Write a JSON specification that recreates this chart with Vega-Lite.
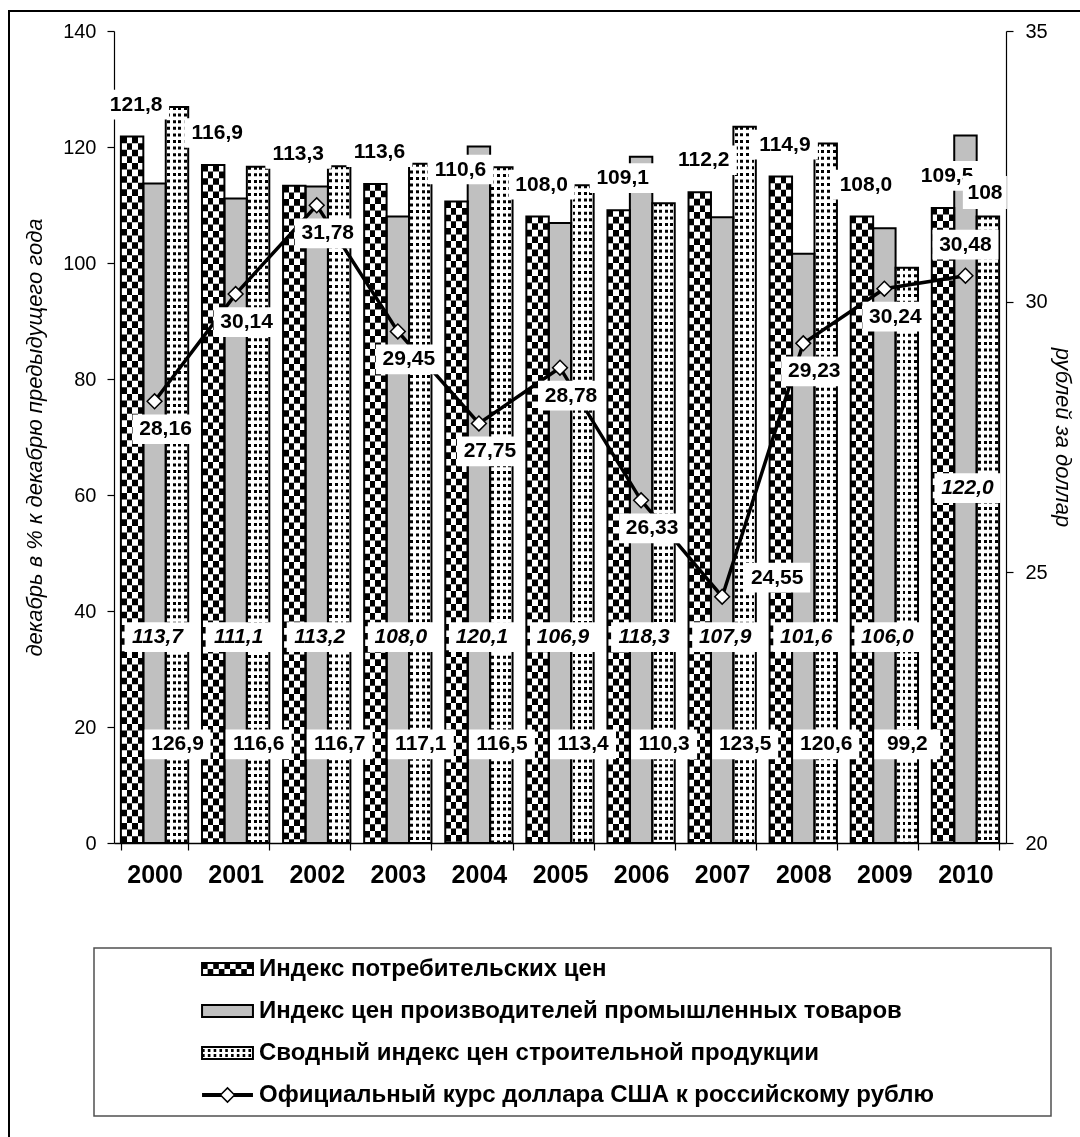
{
  "$schema": "https://vega.github.io/schema/vega-lite/v6.json",
  "width": 1081,
  "height": 1139,
  "autosize": {"type": "none"},
  "padding": {"left": 9, "top": 11, "right": 0, "bottom": 0},
  "background": "white",
  "config": {
    "font": "Liberation Sans",
    "view": {"stroke": "black", "strokeWidth": 2},
    "axis": {"grid": false, "domainColor": "black", "domainWidth": 1.2, "tickColor": "black", "tickWidth": 1.2, "labelColor": "black", "titleColor": "black", "labelFont": "Liberation Sans", "titleFont": "Liberation Sans"},
    "text": {"color": "black"},
    "locale": {"number": {"decimal": ",", "thousands": " ", "grouping": [3], "currency": ["", ""]}}
  },
  "datasets": {
    "bars": [
      {"year": "2000", "key": "cpi", "value": 121.8}, {"year": "2000", "key": "ppi", "value": 113.7}, {"year": "2000", "key": "con", "value": 126.9},
      {"year": "2001", "key": "cpi", "value": 116.9}, {"year": "2001", "key": "ppi", "value": 111.1}, {"year": "2001", "key": "con", "value": 116.6},
      {"year": "2002", "key": "cpi", "value": 113.3}, {"year": "2002", "key": "ppi", "value": 113.2}, {"year": "2002", "key": "con", "value": 116.7},
      {"year": "2003", "key": "cpi", "value": 113.6}, {"year": "2003", "key": "ppi", "value": 108.0}, {"year": "2003", "key": "con", "value": 117.1},
      {"year": "2004", "key": "cpi", "value": 110.6}, {"year": "2004", "key": "ppi", "value": 120.1}, {"year": "2004", "key": "con", "value": 116.5},
      {"year": "2005", "key": "cpi", "value": 108.0}, {"year": "2005", "key": "ppi", "value": 106.9}, {"year": "2005", "key": "con", "value": 113.4},
      {"year": "2006", "key": "cpi", "value": 109.1}, {"year": "2006", "key": "ppi", "value": 118.3}, {"year": "2006", "key": "con", "value": 110.3},
      {"year": "2007", "key": "cpi", "value": 112.2}, {"year": "2007", "key": "ppi", "value": 107.9}, {"year": "2007", "key": "con", "value": 123.5},
      {"year": "2008", "key": "cpi", "value": 114.9}, {"year": "2008", "key": "ppi", "value": 101.6}, {"year": "2008", "key": "con", "value": 120.6},
      {"year": "2009", "key": "cpi", "value": 108.0}, {"year": "2009", "key": "ppi", "value": 106.0}, {"year": "2009", "key": "con", "value": 99.2},
      {"year": "2010", "key": "cpi", "value": 109.5}, {"year": "2010", "key": "ppi", "value": 122.0}, {"year": "2010", "key": "con", "value": 108.0}
    ],
    "usd": [
      {"year": "2000", "rate": 28.16}, {"year": "2001", "rate": 30.14}, {"year": "2002", "rate": 31.78},
      {"year": "2003", "rate": 29.45}, {"year": "2004", "rate": 27.75}, {"year": "2005", "rate": 28.78},
      {"year": "2006", "rate": 26.33}, {"year": "2007", "rate": 24.55}, {"year": "2008", "rate": 29.23},
      {"year": "2009", "rate": 30.24}, {"year": "2010", "rate": 30.48}
    ],
    "legend": [
      {"key": "cpi", "label": "Индекс потребительских цен"},
      {"key": "ppi", "label": "Индекс цен производителей промышленных товаров"},
      {"key": "con", "label": "Сводный индекс цен строительной продукции"},
      {"key": "usd", "label": "Официальный курс доллара США к российскому рублю"}
    ]
  },
  "layer": [
    {
      "layer": [
        {
          "data": {"name": "bars"},
          "encoding": {
            "x": {"field": "year", "type": "nominal",
              "scale": {"range": [105, 997], "paddingInner": 0.17, "paddingOuter": 0.085},
              "axis": {"orient": "bottom", "offset": -307, "title": null, "labelAngle": 0, "labelFontSize": 25, "labelFontWeight": "bold", "labelPadding": 12, "tickSize": 7, "tickBand": "extent", "domainWidth": 1.6}},
            "y": {"field": "value", "type": "quantitative",
              "scale": {"domain": [0, 140], "range": [832, 20], "nice": false},
              "axis": {"orient": "left", "offset": -105, "values": [0, 20, 40, 60, 80, 100, 120, 140], "tickSize": 7, "labelFontSize": 20, "labelPadding": 11, "labelFlush": false, "labelOverlap": false, "title": "декабрь в % к декабрю предыдущего года", "titleFontSize": 22, "titleFontStyle": "italic", "titleFontWeight": "normal", "titlePadding": 16}}
          },
          "layer": [
            {
              "mark": {"type": "bar", "strokeWidth": 0},
              "encoding": {
                "xOffset": {"field": "key", "type": "nominal", "scale": {"domain": ["cpi", "ppi", "con"]}},
                "fill": {"field": "key", "type": "nominal", "scale": {"domain": ["cpi", "ppi", "con"], "range": ["#ffffff", "#c0c0c0", "#ffffff"]}, "legend": null}
              }
            },
            {
              "transform": [{"filter": "datum.key == 'cpi'"}],
              "mark": {"type": "rule", "color": "black", "strokeWidth": 22.4, "strokeDash": [6.6, 6.6]},
              "encoding": {
                "xOffset": {"field": "key", "type": "nominal", "scale": {"domain": ["cpi", "ppi", "con"]}},
                "y2": {"datum": 0}
              }
            },
            {
              "transform": [{"filter": "datum.key == 'cpi'"}],
              "mark": {"type": "bar", "strokeWidth": 0, "blend": "difference",
                "fill": {"gradient": "linear", "x1": 0, "y1": 0, "x2": 1, "y2": 0, "stops": [
                  {"offset": 0, "color": "#000"}, {"offset": 0.25, "color": "#000"},
                  {"offset": 0.25, "color": "#fff"}, {"offset": 0.5, "color": "#fff"},
                  {"offset": 0.5, "color": "#000"}, {"offset": 0.75, "color": "#000"},
                  {"offset": 0.75, "color": "#fff"}, {"offset": 1, "color": "#fff"}]}},
              "encoding": {
                "xOffset": {"field": "key", "type": "nominal", "scale": {"domain": ["cpi", "ppi", "con"]}}
              }
            },
            {
              "transform": [{"filter": "datum.key == 'con'"}],
              "mark": {"type": "rule", "color": "black", "strokeWidth": 22.4, "strokeDash": [3, 3.6]},
              "encoding": {
                "xOffset": {"field": "key", "type": "nominal", "scale": {"domain": ["cpi", "ppi", "con"]}},
                "y2": {"datum": 0}
              }
            },
            {
              "transform": [{"filter": "datum.key == 'con'"}],
              "mark": {"type": "bar", "strokeWidth": 0, "blend": "lighten",
                "fill": {"gradient": "linear", "x1": 0, "y1": 0, "x2": 1, "y2": 0, "stops": [
                  {"offset": 0, "color": "#fff"}, {"offset": 0.06, "color": "#fff"},
                  {"offset": 0.06, "color": "#000"}, {"offset": 0.19, "color": "#000"},
                  {"offset": 0.19, "color": "#fff"}, {"offset": 0.31, "color": "#fff"},
                  {"offset": 0.31, "color": "#000"}, {"offset": 0.44, "color": "#000"},
                  {"offset": 0.44, "color": "#fff"}, {"offset": 0.56, "color": "#fff"},
                  {"offset": 0.56, "color": "#000"}, {"offset": 0.69, "color": "#000"},
                  {"offset": 0.69, "color": "#fff"}, {"offset": 0.81, "color": "#fff"},
                  {"offset": 0.81, "color": "#000"}, {"offset": 0.94, "color": "#000"},
                  {"offset": 0.94, "color": "#fff"}, {"offset": 1, "color": "#fff"}]}},
              "encoding": {
                "xOffset": {"field": "key", "type": "nominal", "scale": {"domain": ["cpi", "ppi", "con"]}}
              }
            },
            {
              "mark": {"type": "bar", "fillOpacity": 0, "stroke": "black", "strokeWidth": 2},
              "encoding": {
                "xOffset": {"field": "key", "type": "nominal", "scale": {"domain": ["cpi", "ppi", "con"]}}
              }
            },
            {
              "transform": [{"filter": "datum.key == 'cpi'"}],
              "mark": {"type": "point", "shape": "M-1,-0.45H1V0.45H-1Z", "size": 4356, "filled": true, "color": "white", "opacity": 1, "strokeWidth": 0, "xOffset": -18.4, "yOffset": -32}
            },
            {
              "transform": [{"filter": "datum.key == 'cpi'"}],
              "mark": {"type": "text", "dx": -18.4, "dy": -32, "fontSize": 21, "fontWeight": "bold", "baseline": "middle"},
              "encoding": {"text": {"field": "value", "type": "quantitative", "format": ".1f"}}
            },
            {
              "transform": [{"filter": "datum.key == 'ppi' && datum.year != '2010'"}],
              "mark": {"type": "point", "shape": "M-1,-0.45H1V0.45H-1Z", "size": 4356, "filled": true, "color": "white", "opacity": 1, "strokeWidth": 0, "xOffset": 3},
              "encoding": {"y": {"datum": 35.5}}
            },
            {
              "transform": [{"filter": "datum.key == 'ppi' && datum.year != '2010'"}],
              "mark": {"type": "text", "dx": 3, "fontSize": 21, "fontWeight": "bold", "fontStyle": "italic", "baseline": "middle"},
              "encoding": {"y": {"datum": 35.5}, "text": {"field": "value", "type": "quantitative", "format": ".1f"}}
            },
            {
              "transform": [{"filter": "datum.key == 'ppi' && datum.year == '2010'"}],
              "mark": {"type": "point", "shape": "M-1,-0.45H1V0.45H-1Z", "size": 4356, "filled": true, "color": "white", "opacity": 1, "strokeWidth": 0, "xOffset": 2},
              "encoding": {"y": {"datum": 61.2}}
            },
            {
              "transform": [{"filter": "datum.key == 'ppi' && datum.year == '2010'"}],
              "mark": {"type": "text", "dx": 2, "fontSize": 21, "fontWeight": "bold", "fontStyle": "italic", "baseline": "middle"},
              "encoding": {"y": {"datum": 61.2}, "text": {"field": "value", "type": "quantitative", "format": ".1f"}}
            },
            {
              "transform": [{"filter": "datum.key == 'con' && datum.year != '2010'"}],
              "mark": {"type": "point", "shape": "M-1,-0.45H1V0.45H-1Z", "size": 4356, "filled": true, "color": "white", "opacity": 1, "strokeWidth": 0, "xOffset": 23},
              "encoding": {"y": {"datum": 17}}
            },
            {
              "transform": [{"filter": "datum.key == 'con' && datum.year != '2010'"}],
              "mark": {"type": "text", "dx": 23, "fontSize": 21, "fontWeight": "bold", "baseline": "middle"},
              "encoding": {"y": {"datum": 17}, "text": {"field": "value", "type": "quantitative", "format": ".1f"}}
            },
            {
              "transform": [{"filter": "datum.key == 'con' && datum.year == '2010'"}],
              "mark": {"type": "point", "shape": "M-1,-0.75H1V0.75H-1Z", "size": 1936, "filled": true, "color": "white", "opacity": 1, "strokeWidth": 0, "xOffset": 19.4, "yOffset": -24}
            },
            {
              "transform": [{"filter": "datum.key == 'con' && datum.year == '2010'"}],
              "mark": {"type": "text", "align": "left", "dx": 2, "dy": -24, "limit": 37, "ellipsis": "\u200b", "fontSize": 21, "fontWeight": "bold", "baseline": "middle"},
              "encoding": {"text": {"field": "value", "type": "quantitative", "format": ".1f"}}
            }
          ]
        },
        {
          "data": {"name": "usd"},
          "encoding": {
            "x": {"field": "year", "type": "nominal"},
            "y": {"field": "rate", "type": "quantitative",
              "scale": {"domain": [20, 35], "range": [832, 20], "nice": false, "zero": false},
              "axis": {"orient": "right", "offset": -84, "values": [20, 25, 30, 35], "tickSize": 7, "labelFontSize": 20, "labelPadding": 12, "labelFlush": false, "title": "рублей за доллар", "titleFontSize": 22, "titleFontStyle": "italic", "titleFontWeight": "normal", "titlePadding": 3}}
          },
          "layer": [
            {"mark": {"type": "line", "color": "black", "strokeWidth": 3.5}},
            {"mark": {"type": "point", "shape": "diamond", "filled": true, "fill": "white", "stroke": "black", "strokeWidth": 1.5, "size": 220, "opacity": 1}},
            {
              "transform": [{"filter": "datum.year != '2007' && datum.year != '2010'"}],
              "mark": {"type": "point", "shape": "M-1,-0.45H1V0.45H-1Z", "size": 4356, "filled": true, "color": "white", "opacity": 1, "strokeWidth": 0, "xOffset": 11, "yOffset": 28}
            },
            {
              "transform": [{"filter": "datum.year != '2007' && datum.year != '2010'"}],
              "mark": {"type": "text", "dx": 11, "dy": 28, "fontSize": 21, "fontWeight": "bold", "baseline": "middle"},
              "encoding": {"text": {"field": "rate", "type": "quantitative", "format": ".2f"}}
            },
            {
              "transform": [{"filter": "datum.year == '2007'"}],
              "mark": {"type": "point", "shape": "M-1,-0.45H1V0.45H-1Z", "size": 4356, "filled": true, "color": "white", "opacity": 1, "strokeWidth": 0, "xOffset": 55, "yOffset": -19}
            },
            {
              "transform": [{"filter": "datum.year == '2007'"}],
              "mark": {"type": "text", "dx": 55, "dy": -19, "fontSize": 21, "fontWeight": "bold", "baseline": "middle"},
              "encoding": {"text": {"field": "rate", "type": "quantitative", "format": ".2f"}}
            },
            {
              "transform": [{"filter": "datum.year == '2010'"}],
              "mark": {"type": "point", "shape": "M-1,-0.45H1V0.45H-1Z", "size": 4356, "filled": true, "color": "white", "opacity": 1, "strokeWidth": 0, "yOffset": -31}
            },
            {
              "transform": [{"filter": "datum.year == '2010'"}],
              "mark": {"type": "text", "dy": -31, "fontSize": 21, "fontWeight": "bold", "baseline": "middle"},
              "encoding": {"text": {"field": "rate", "type": "quantitative", "format": ".2f"}}
            }
          ]
        }
      ],
      "resolve": {"scale": {"y": "independent"}}
    },
    {
      "data": {"name": "legend"},
      "encoding": {
        "y": {"field": "key", "type": "nominal", "scale": {"type": "point", "domain": ["cpi", "ppi", "con", "usd"], "range": [937, 1105], "padding": 0.5}, "axis": null}
      },
      "layer": [
        {
          "transform": [{"filter": "datum.key == 'cpi'"}],
          "mark": {"type": "rect", "fill": "white", "stroke": "#505050", "strokeWidth": 1.5, "yOffset": -21, "y2Offset": 21},
          "encoding": {
            "x": {"datum": 0, "type": "quantitative", "scale": {"domain": [0, 1], "range": [85, 1042]}, "axis": null},
            "x2": {"datum": 1},
            "y": {"datum": "cpi", "type": "nominal"},
            "y2": {"datum": "usd"}
          }
        },
        {
          "transform": [{"filter": "datum.key != 'usd'"}],
          "mark": {"type": "bar", "height": 12, "strokeWidth": 0},
          "encoding": {
            "x": {"datum": 0.1129, "type": "quantitative", "scale": {"domain": [0, 1], "range": [85, 1042]}, "axis": null},
            "x2": {"datum": 0.1661},
            "fill": {"field": "key", "type": "nominal", "scale": {"domain": ["cpi", "ppi", "con"], "range": ["#ffffff", "#c0c0c0", "#ffffff"]}, "legend": null}
          }
        },
        {
          "transform": [{"filter": "datum.key == 'cpi'"}],
          "mark": {"type": "rule", "color": "black", "strokeWidth": 12, "strokeDash": [5.6, 5.6]},
          "encoding": {
            "x": {"datum": 0.1129, "type": "quantitative", "scale": {"domain": [0, 1], "range": [85, 1042]}, "axis": null},
            "x2": {"datum": 0.1661}
          }
        },
        {
          "transform": [{"filter": "datum.key == 'cpi'"}],
          "mark": {"type": "bar", "height": 12, "strokeWidth": 0, "blend": "difference",
            "fill": {"gradient": "linear", "x1": 0, "y1": 0, "x2": 0, "y2": 1, "stops": [
              {"offset": 0, "color": "#000"}, {"offset": 0.5, "color": "#000"},
              {"offset": 0.5, "color": "#fff"}, {"offset": 1, "color": "#fff"}]}},
          "encoding": {
            "x": {"datum": 0.1129, "type": "quantitative", "scale": {"domain": [0, 1], "range": [85, 1042]}, "axis": null},
            "x2": {"datum": 0.1661}
          }
        },
        {
          "transform": [{"filter": "datum.key == 'con'"}],
          "mark": {"type": "rule", "color": "black", "strokeWidth": 12, "strokeDash": [2.6, 3.2]},
          "encoding": {
            "x": {"datum": 0.1129, "type": "quantitative", "scale": {"domain": [0, 1], "range": [85, 1042]}, "axis": null},
            "x2": {"datum": 0.1661}
          }
        },
        {
          "transform": [{"filter": "datum.key == 'con'"}],
          "mark": {"type": "bar", "height": 12, "strokeWidth": 0, "blend": "lighten",
            "fill": {"gradient": "linear", "x1": 0, "y1": 0, "x2": 0, "y2": 1, "stops": [
              {"offset": 0, "color": "#fff"}, {"offset": 0.15, "color": "#fff"},
              {"offset": 0.15, "color": "#000"}, {"offset": 0.42, "color": "#000"},
              {"offset": 0.42, "color": "#fff"}, {"offset": 0.58, "color": "#fff"},
              {"offset": 0.58, "color": "#000"}, {"offset": 0.85, "color": "#000"},
              {"offset": 0.85, "color": "#fff"}, {"offset": 1, "color": "#fff"}]}},
          "encoding": {
            "x": {"datum": 0.1129, "type": "quantitative", "scale": {"domain": [0, 1], "range": [85, 1042]}, "axis": null},
            "x2": {"datum": 0.1661}
          }
        },
        {
          "transform": [{"filter": "datum.key != 'usd'"}],
          "mark": {"type": "bar", "height": 12, "fillOpacity": 0, "stroke": "black", "strokeWidth": 2},
          "encoding": {
            "x": {"datum": 0.1129, "type": "quantitative", "scale": {"domain": [0, 1], "range": [85, 1042]}, "axis": null},
            "x2": {"datum": 0.1661}
          }
        },
        {
          "transform": [{"filter": "datum.key == 'usd'"}],
          "mark": {"type": "rule", "color": "black", "strokeWidth": 4},
          "encoding": {
            "x": {"datum": 0.1129, "type": "quantitative", "scale": {"domain": [0, 1], "range": [85, 1042]}, "axis": null},
            "x2": {"datum": 0.1661}
          }
        },
        {
          "transform": [{"filter": "datum.key == 'usd'"}],
          "mark": {"type": "point", "shape": "diamond", "filled": true, "fill": "white", "stroke": "black", "strokeWidth": 1.5, "size": 200, "opacity": 1},
          "encoding": {
            "x": {"datum": 0.1395, "type": "quantitative", "scale": {"domain": [0, 1], "range": [85, 1042]}, "axis": null}
          }
        },
        {
          "mark": {"type": "text", "align": "left", "baseline": "middle", "dx": 6, "fontSize": 24, "fontWeight": "bold"},
          "encoding": {
            "x": {"datum": 0.1661, "type": "quantitative", "scale": {"domain": [0, 1], "range": [85, 1042]}, "axis": null},
            "text": {"field": "label", "type": "nominal"}
          }
        }
      ]
    }
  ],
  "resolve": {"scale": {"x": "independent", "y": "independent"}}
}
